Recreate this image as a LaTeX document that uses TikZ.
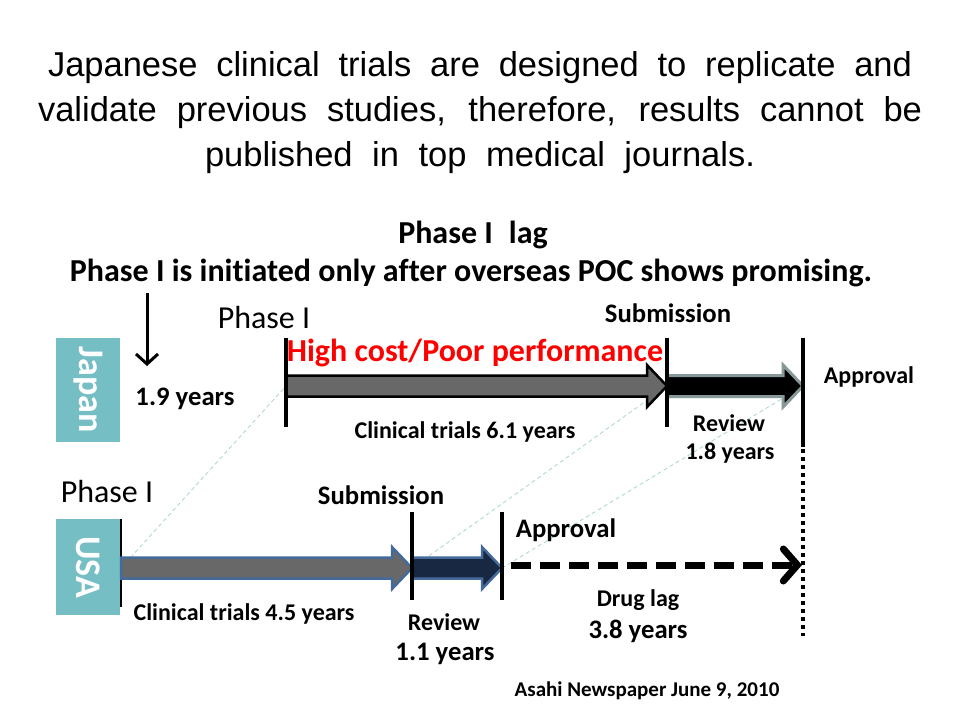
\documentclass[tikz,border=0pt]{standalone}
\usepackage{fontspec}
\setmainfont{Carlito}[Ligatures=NoCommon]
\newfontfamily\arialfont{Liberation Sans}
\usetikzlibrary{arrows.meta,calc}
\definecolor{boxteal}{RGB}{116,190,196}
\definecolor{trialgray}{RGB}{104,104,104}
\definecolor{usablue}{RGB}{68,105,155}
\definecolor{usanavy}{RGB}{24,40,66}
\definecolor{revgray}{RGB}{135,152,152}
\definecolor{paleteal}{RGB}{170,212,212}
\newcommand\myblockarrow[3]{%
  \filldraw[#1] let \p1=(#2), \p2=(#3) in
    (\x1,\y1+10.5) -- (\x2-20,\y1+10.5) -- (\x2-20,\y1+21) -- (\x2,\y1)
    -- (\x2-20,\y1-21) -- (\x2-20,\y1-10.5) -- (\x1,\y1-10.5) -- cycle;}
\begin{document}
\begin{tikzpicture}[x=1pt,y=-1pt,
  titletxt/.style={inner sep=0pt, anchor=base, font=\arialfont\fontsize{34.5}{40}\selectfont},
  headtxt/.style={inner sep=0pt, font=\bfseries\fontsize{32}{36}\selectfont},
  lbl/.style={inner sep=0pt, font=\bfseries\fontsize{24}{28}\selectfont},
  lblbig/.style={inner sep=0pt, font=\bfseries\fontsize{26.7}{30}\selectfont},
  phasetxt/.style={inner sep=0pt, font=\fontsize{32}{36}\selectfont},
  country/.style={fill=boxteal, minimum height=64pt, text=white, inner sep=0pt,
    font=\bfseries\fontsize{36}{40}\selectfont},
  bar/.style={line width=4pt},
  paleline/.style={paleteal, line width=0.8pt, dash pattern=on 4pt off 3pt},
]
\useasboundingbox (0,0) rectangle (960,720);
\fill[white] (0,0) rectangle (960,720);

% title
\node[titletxt] (t1) at (480,76) {\makebox[864pt][s]{Japanese clinical trials are designed to replicate and}};
\node[titletxt] (t2) at (480,121) {\makebox[884pt][s]{validate previous studies, therefore, results cannot be}};
\node[titletxt] (t3) at (480,166) {\makebox[550pt][s]{published in top medical journals.}};

\node[headtxt] (h1) at (473,235) {Phase I\enspace lag};
\node[headtxt] (h2) at (471,273) {Phase I is initiated only after overseas POC shows promising.};

% key coordinates
\coordinate (jS) at (286,386);
\coordinate (jSub) at (667,386);
\coordinate (jApp) at (803,386);
\coordinate (uS) at (121,568);
\coordinate (uSub) at (412,568);
\coordinate (uApp) at (502,568);

% pale guide lines
\draw[paleline] (uS) -- (jS);
\draw[paleline] (uSub) -- (jSub);
\draw[paleline] (uApp) -- (jApp);

% Japan
\node[country, minimum width=104pt, rotate=-90] (japan) at (88,390) {Japan};
\coordinate (dTop) at (147,293);
\coordinate (dBot) at (147,366);
\draw[line width=3pt, -{Straight Barb[length=10pt,width=22pt,line width=3pt]}] (dTop) -- (dBot);
\node[lblbig] (j19) at (185,399) {1.9 years};
\node[phasetxt] (jphase) at (264,318) {Phase I};

\myblockarrow{fill=trialgray, draw=black, line width=2.5pt}{jS}{jSub}
\myblockarrow{fill=black, draw=revgray, line width=3pt}{jSub}{jApp}

\draw[bar] (286,338) -- (286,427);
\draw[bar] (667,338) -- (667,427);
\draw[bar] (803,338) -- (803,447);
\draw[line width=4pt, dash pattern=on 4pt off 4pt] (803,449) -- (803,636);

\node[inner sep=0pt, text=red, font=\bfseries\fontsize{32}{36}\selectfont] (high) at (475,353) {High cost/Poor performance};
\node[lblbig] (jsubm) at (668,313) {Submission};
\node[lbl] (japp) at (869,377) {Approval};
\node[lbl] (jct) at (465,432) {Clinical trials 6.1 years};
\node[lbl] (jrev) at (729,423) {Review};
\node[lbl] (j18) at (730,453) {1.8 years};

% USA
\node[phasetxt] (uphase) at (107,491) {Phase I};
\node[country, minimum width=96pt, rotate=-90] (usa) at (88,567) {USA};
\draw[line width=2.5pt] (121,519) -- (121,607);

\myblockarrow{fill=trialgray, draw=usablue, line width=2.5pt}{uS}{uSub}
\myblockarrow{fill=usanavy, draw=usablue, line width=2.5pt}{uSub}{uApp}

\draw[bar] (412,512) -- (412,600);
\draw[bar] (502,512) -- (502,600);

\coordinate (dlS) at (511,565);
\coordinate (dlE) at (jApp |- dlS);
\draw[line width=7pt, dash pattern=on 20pt off 9pt, -{Straight Barb[length=14pt,width=32pt,line width=7pt,line cap=round]}] (dlS) -- ($(dlE)+(-1,0)$);

\node[lblbig] (usubm) at (381,495) {Submission};
\node[lblbig] (uapp) at (566,530) {Approval};
\node[lbl] (uct) at (244,614) {Clinical trials 4.5 years};
\node[lbl] (urev) at (444,622) {Review};
\node[lblbig] (u11) at (445,654) {1.1 years};
\node[lbl] (drug) at (638,600) {Drug lag};
\node[lblbig] (u38) at (638,631) {3.8 years};

\node[inner sep=0pt, font=\bfseries\fontsize{21}{24}\selectfont] (src) at (647,691) {Asahi Newspaper June 9, 2010};
\end{tikzpicture}
\end{document}
